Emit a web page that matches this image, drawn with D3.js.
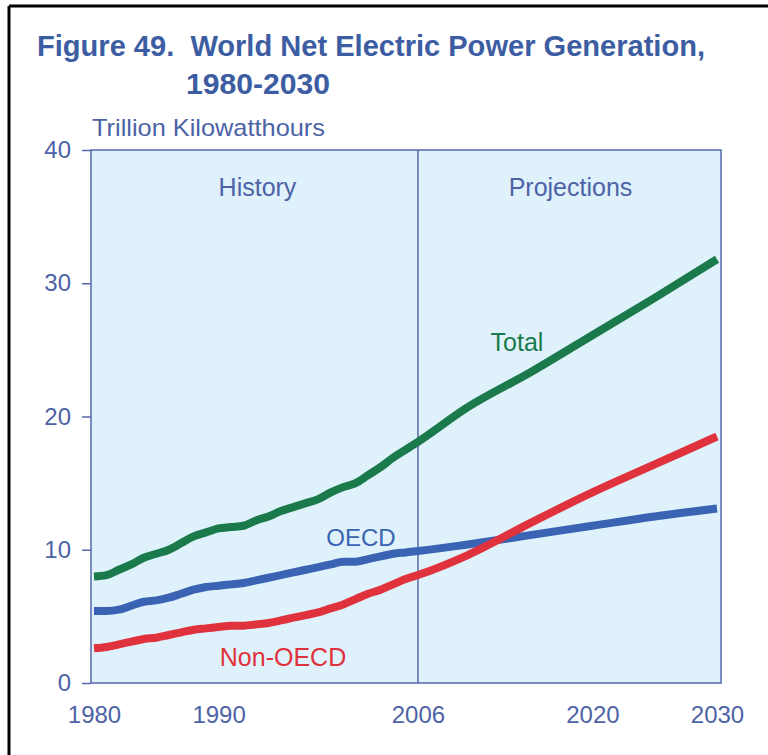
<!DOCTYPE html>
<html>
<head>
<meta charset="utf-8">
<script src="https://cdn.jsdelivr.net/npm/d3@7"></script>
<style>
  body { margin: 0; background: #fff; }
  text { font-family: "Liberation Sans", Arial, sans-serif; }
</style>
</head>
<body>
<div id="chart"></div>
<script>
// values (trillion kWh)
const years = [1980, 1981, 1982, 1983, 1984, 1985, 1986, 1987, 1988, 1989, 1990,
  1991, 1992, 1993, 1994, 1995, 1996, 1997, 1998, 1999, 2000,
  2001, 2002, 2003, 2004, 2005, 2006, 2010, 2015, 2020, 2025, 2030];
const total = [8.0, 8.1, 8.5, 8.9, 9.4, 9.7, 10.0, 10.5, 11.0, 11.3, 11.6,
  11.7, 11.8, 12.2, 12.5, 12.9, 13.2, 13.5, 13.8, 14.3, 14.7,
  15.0, 15.6, 16.2, 16.9, 17.5, 18.1, 20.7, 23.3, 26.1, 28.9, 31.8];
const oecd = [5.4, 5.4, 5.5, 5.8, 6.1, 6.2, 6.4, 6.7, 7.0, 7.2, 7.3,
  7.4, 7.5, 7.7, 7.9, 8.1, 8.3, 8.5, 8.7, 8.9, 9.1,
  9.1, 9.3, 9.5, 9.7, 9.8, 9.9, 10.4, 11.1, 11.8, 12.5, 13.1];
const nonOecd = [2.6, 2.7, 2.9, 3.1, 3.3, 3.4, 3.6, 3.8, 4.0, 4.1, 4.2,
  4.3, 4.3, 4.4, 4.5, 4.7, 4.9, 5.1, 5.3, 5.6, 5.9,
  6.3, 6.7, 7.0, 7.4, 7.8, 8.1, 9.6, 12.0, 14.3, 16.4, 18.5];
const xTicks = [1980, 1990, 2006, 2020, 2030];
const yTicks = [0, 10, 20, 30, 40];

const W = 768, H = 755;
const plot = { left: 91, right: 721, top: 150, bottom: 683 };

const svg = d3.select("#chart").append("svg")
  .attr("width", W).attr("height", H);

// page frame (left + top rule)
svg.append("line").attr("x1", 9).attr("y1", 6).attr("x2", W).attr("y2", 6)
  .attr("stroke", "#000").attr("stroke-width", 3);
svg.append("line").attr("x1", 9).attr("y1", 6).attr("x2", 9).attr("y2", H)
  .attr("stroke", "#000").attr("stroke-width", 3);

const x = d3.scaleLinear().domain([1980, 2030]).range([plot.left + 3, plot.right - 4]);
const y = d3.scaleLinear().domain([0, 40]).range([plot.bottom, plot.top]);

const axisColor = "#5468ad";
const textColor = "#4d63a6";

// plot background
svg.append("rect")
  .attr("x", plot.left).attr("y", plot.top)
  .attr("width", plot.right - plot.left).attr("height", plot.bottom - plot.top)
  .attr("fill", "#dff1fb")
  .attr("stroke", axisColor).attr("stroke-width", 1.5);

// history / projections divider
svg.append("line")
  .attr("x1", x(2006)).attr("x2", x(2006))
  .attr("y1", plot.top).attr("y2", plot.bottom)
  .attr("stroke", axisColor).attr("stroke-width", 1.5);

// y axis
const yAxis = svg.append("g")
  .attr("transform", "translate(" + plot.left + ",0)")
  .call(d3.axisLeft(y).tickValues(yTicks).tickSize(9).tickPadding(11));
yAxis.select(".domain").remove();
yAxis.selectAll("line").attr("stroke", axisColor).attr("stroke-width", 1.5);
yAxis.selectAll("text")
  .attr("fill", textColor)
  .style("font-size", "24px");

// x axis labels
const xAxis = svg.append("g")
  .attr("transform", "translate(0," + plot.bottom + ")")
  .call(d3.axisBottom(x).tickValues(xTicks).tickFormat(d3.format("d")).tickSize(0));
xAxis.select(".domain").remove();
xAxis.selectAll("text")
  .attr("fill", textColor)
  .attr("y", 40)
  .attr("dy", null)
  .style("font-size", "24px");

// lines
const line = d3.line()
  .x(function(d) { return x(d[0]); })
  .y(function(d) { return y(d[1]); })
  .curve(d3.curveMonotoneX);

const series = [
  { name: "Total", values: total, color: "#1b7a4b" },
  { name: "OECD", values: oecd, color: "#3b63b3" },
  { name: "Non-OECD", values: nonOecd, color: "#e0323d" }
];

series.forEach(function(s) {
  svg.append("path")
    .datum(years.map(function(yr, i) { return [yr, s.values[i]]; }))
    .attr("d", line)
    .attr("fill", "none")
    .attr("stroke", s.color)
    .attr("stroke-width", 8)
    .attr("stroke-linejoin", "round");
});

// series labels
svg.append("text").attr("x", 517).attr("y", 351).attr("text-anchor", "middle")
  .attr("fill", "#1b7a4b").style("font-size", "25px").text("Total");
svg.append("text").attr("x", 361).attr("y", 546).attr("text-anchor", "middle")
  .attr("fill", "#3b63b3").style("font-size", "24px").text("OECD");
svg.append("text").attr("x", 283).attr("y", 666).attr("text-anchor", "middle")
  .attr("fill", "#e0323d").style("font-size", "25px").text("Non-OECD");

// period labels
svg.append("text").attr("x", (plot.left + x(2006)) / 2 + 3).attr("y", 196).attr("text-anchor", "middle")
  .attr("fill", textColor).style("font-size", "25px").text("History");
svg.append("text").attr("x", (x(2006) + plot.right) / 2 + 1).attr("y", 196).attr("text-anchor", "middle")
  .attr("fill", textColor).style("font-size", "25px").text("Projections");

// units
svg.append("text").attr("x", 92).attr("y", 136)
  .attr("fill", textColor).style("font-size", "24px")
  .attr("textLength", 233).attr("lengthAdjust", "spacingAndGlyphs")
  .text("Trillion Kilowatthours");

// title
svg.append("text").attr("x", 37).attr("y", 56)
  .attr("fill", "#3d5da3").style("font-size", "30px").style("font-weight", "bold")
  .attr("xml:space", "preserve")
  .attr("textLength", 668).attr("lengthAdjust", "spacingAndGlyphs")
  .text("Figure 49.  World Net Electric Power Generation,");
svg.append("text").attr("x", 186).attr("y", 94)
  .attr("fill", "#3d5da3").style("font-size", "30px").style("font-weight", "bold")
  .attr("textLength", 144).attr("lengthAdjust", "spacingAndGlyphs")
  .text("1980-2030");
</script>
</body>
</html>
